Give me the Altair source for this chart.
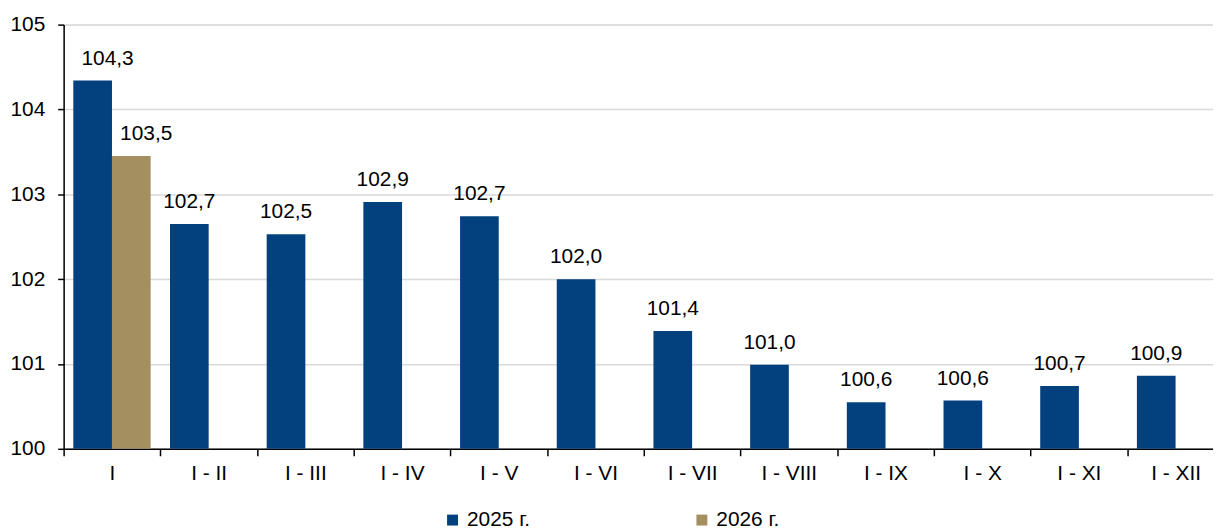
import altair as alt
import pandas as pd

categories = ["I", "I - II", "I - III", "I - IV", "I - V", "I - VI", "I - VII",
              "I - VIII", "I - IX", "I - X", "I - XI", "I - XII"]
values_2025 = [104.34, 102.65, 102.53, 102.91, 102.74, 102.0, 101.39,
               100.99, 100.55, 100.57, 100.74, 100.86]
labels_2025 = ["104,3", "102,7", "102,5", "102,9", "102,7", "102,0", "101,4",
               "101,0", "100,6", "100,6", "100,7", "100,9"]
categories_2026 = ["I"]
values_2026 = [103.45]
labels_2026 = ["103,5"]
series = ["2025 г.", "2026 г."]
colors = ["#02417E", "#A38F5F"]

rows = []
for c, v, l in zip(categories, values_2025, labels_2025):
    rows.append({"cat": c, "series": series[0], "value": v, "label": l})
for c, v, l in zip(categories_2026, values_2026, labels_2026):
    rows.append({"cat": c, "series": series[1], "value": v, "label": l})
df = pd.DataFrame(rows)

FONT = "Liberation Sans"
FS = 21
W = 1168

x_enc = alt.X("cat:N", sort=categories,
              scale=alt.Scale(paddingInner=0, paddingOuter=0),
              axis=alt.Axis(title=None, labelAngle=0, labelFontSize=FS, labelFont=FONT,
                            labelColor="black", tickBand="extent", tickSize=7,
                            tickColor="black", tickWidth=1.5, domainColor="black",
                            domainWidth=1.5, labelPadding=7, grid=False))
xo_enc = alt.XOffset("series:N", sort=series,
                     scale=alt.Scale(domain=series, paddingInner=0, paddingOuter=0.25))
y_scale = alt.Scale(domain=[100, 105], zero=False, nice=False)

bars = alt.Chart(df).mark_bar().encode(
    x=x_enc,
    xOffset=xo_enc,
    y=alt.Y("value:Q", scale=y_scale,
            axis=alt.Axis(title=None, values=[100, 101, 102, 103, 104, 105], format="d",
                          labelFontSize=FS, labelFont=FONT, labelColor="black",
                          tickSize=6, tickColor="black", tickWidth=1.5,
                          domainColor="black", domainWidth=1.5, labelPadding=13,
                          grid=True, gridColor="#d9d9d9", gridWidth=1.5)),
    y2=alt.datum(100),
    color=alt.Color("series:N", scale=alt.Scale(domain=series, range=colors),
                    legend=alt.Legend(title=None, orient="none", legendX=381, legendY=488,
                                      direction="horizontal", symbolType="square",
                                      symbolSize=121, symbolStrokeWidth=0,
                                      labelFontSize=FS, labelFont=FONT, labelColor="black",
                                      columnPadding=162, labelOffset=4, padding=0)),
)

text_base = alt.Chart(df).encode(
    x=alt.X("cat:N", sort=categories),
    xOffset=alt.XOffset("series:N", sort=series),
    y=alt.Y("value:Q"),
    text="label:N",
)
text_first = text_base.transform_filter(alt.datum.cat == "I").mark_text(
    baseline="alphabetic", dy=-16, dx=15, fontSize=FS, font=FONT, color="black")
text_rest = text_base.transform_filter(alt.datum.cat != "I").mark_text(
    baseline="alphabetic", dy=-16, fontSize=FS, font=FONT, color="black")

chart = alt.layer(bars, text_first, text_rest).properties(
    width=W, height=427,
    autosize=alt.AutoSizeParams(type="none"),
    padding={"left": 56, "top": 15, "right": -11, "bottom": 80},
).configure_view(stroke=None).configure(font=FONT)

chart.save("out.html", embed_options={"renderer": "svg", "actions": False})
